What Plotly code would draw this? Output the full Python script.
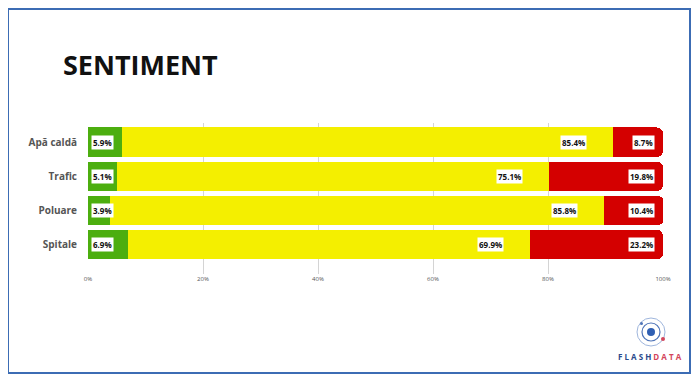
import plotly.graph_objects as go

categories = ["Apă caldă", "Trafic", "Poluare", "Spitale"]
positive = [5.9, 5.1, 3.9, 6.9]
neutral = [85.4, 75.1, 85.8, 69.9]
negative = [8.7, 19.8, 10.4, 23.2]
tick_vals = [0, 20, 40, 60, 80, 100]
tick_text = ["0%", "20%", "40%", "60%", "80%", "100%"]

# page body has an 8px margin; figure sized to fit the remaining window
OFF = 8
W, H = 692, 374
GREEN, YELLOW, RED = "#4cae0f", "#f4ef00", "#d40000"


def px(x):
    return (x - OFF) / W


def py(y):
    return 1 - (y - OFF) / H


fig = go.Figure()
for name, vals, col in [("Pozitiv", positive, GREEN), ("Neutru", neutral, YELLOW), ("Negativ", negative, RED)]:
    fig.add_trace(go.Bar(x=vals, y=categories, orientation="h", name=name,
                         marker=dict(color=col, line=dict(width=0)), hoverinfo="skip"))

ann = []
lab_font = dict(family="Open Sans", size=8, color="#111111", weight="bold")
for i, c in enumerate(categories):
    ann.append(dict(x=0.6, y=c, xref="x", yref="y", text=f"{positive[i]}%", showarrow=False,
                    xanchor="left", bgcolor="white", borderpad=1, font=lab_font))
    ann.append(dict(x=positive[i] + neutral[i] - 4.5, y=c, xref="x", yref="y", text=f"{neutral[i]}%",
                    showarrow=False, xanchor="right", bgcolor="white", borderpad=1, font=lab_font))
    ann.append(dict(x=98.6, y=c, xref="x", yref="y", text=f"{negative[i]}%", showarrow=False,
                    xanchor="right", bgcolor="white", borderpad=1, font=lab_font))

ann.append(dict(x=px(61), y=py(65), xref="paper", yref="paper", text="<b>SENTIMENT</b>", showarrow=False,
                xanchor="left", yanchor="middle", font=dict(family="Open Sans", size=27, color="#111111")))
ann.append(dict(x=px(650), y=py(356), xref="paper", yref="paper",
                text="<span style='color:#2b4a8b'>F L A S H </span><span style='color:#d3455b'>D A T A</span>",
                showarrow=False, xanchor="center", yanchor="middle",
                font=dict(family="Open Sans", size=8, weight="bold")))

shapes = [
    dict(type="rect", xref="paper", yref="paper", x0=px(8), x1=px(690), y0=py(373), y1=py(9),
         line=dict(color="#3c6cb4", width=2), fillcolor="rgba(0,0,0,0)", layer="above"),
    # logo
    dict(type="circle", xref="paper", yref="paper", x0=px(637), x1=px(665), y0=py(346), y1=py(318),
         line=dict(color="#9fb6dd", width=1)),
    dict(type="circle", xref="paper", yref="paper", x0=px(642), x1=px(660), y0=py(341), y1=py(323),
         line=dict(color="#4f74b8", width=1.2)),
    dict(type="circle", xref="paper", yref="paper", x0=px(647), x1=px(655), y0=py(336), y1=py(328),
         line=dict(width=0), fillcolor="#2f5fb3"),
    dict(type="circle", xref="paper", yref="paper", x0=px(661), x1=px(665), y0=py(341), y1=py(337),
         line=dict(width=0), fillcolor="#d3455b"),
    dict(type="circle", xref="paper", yref="paper", x0=px(640), x1=px(643), y0=py(325), y1=py(322),
         line=dict(width=0), fillcolor="#4f74b8"),
]

fig.update_layout(
    width=W, height=H,
    margin=dict(l=0, r=0, t=0, b=0),
    paper_bgcolor="white", plot_bgcolor="white",
    barmode="stack", bargap=0.14, barcornerradius=6,
    showlegend=False,
    annotations=ann, shapes=shapes,
    xaxis=dict(domain=[px(88), px(663)], range=[0, 100], tickvals=tick_vals, ticktext=tick_text,
               showgrid=True, gridcolor="#d4d4d4", gridwidth=1, zeroline=False, showline=False,
               tickfont=dict(family="Open Sans", size=6, color="#555555"), automargin=False,
               fixedrange=True),
    yaxis=dict(domain=[py(274), py(123)], categoryorder="array", categoryarray=categories,
               range=[3.86, -0.56], showgrid=False, zeroline=False, showline=False,
               tickfont=dict(family="Open Sans", size=10, color="#555555", weight="bold"),
               ticklabelstandoff=10, automargin=False, fixedrange=True),
)

fig.write_html("out.html")
